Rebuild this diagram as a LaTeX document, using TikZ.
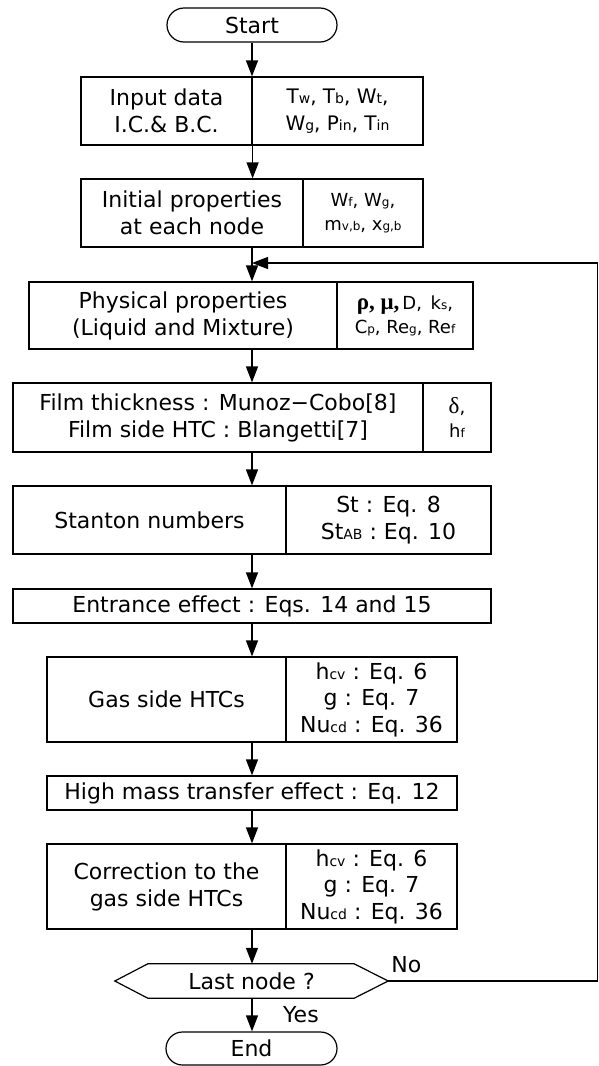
\documentclass[tikz,border=0pt]{standalone}
\usepackage{fontspec}
\setmainfont{DejaVu Sans}
\newfontfamily\grk{Liberation Serif}
\usetikzlibrary{arrows.meta,shapes.misc}
\newcommand{\sa}[1]{{\fontsize{14}{14}\selectfont #1}}
\newcommand{\sbb}[1]{{\fontsize{12}{12}\selectfont #1}}
\begin{document}
\begin{tikzpicture}[x=1pt,y=-1pt,
  font=\fontsize{22}{27}\selectfont,
  box/.style={draw, line width=1.2pt, inner sep=0pt, align=center},
  small/.style={font=\fontsize{18}{24}\selectfont},
  mid/.style={font=\fontsize{20}{27}\selectfont},
  arr/.style={line width=1.2pt, -{Triangle[length=16pt,width=12pt]}},
  ln/.style={line width=1.2pt}]
\useasboundingbox (0,0) rectangle (599,1066);

% Start
\node[box, rounded rectangle, minimum width=170pt, minimum height=34pt] (start) at (252,25) {Start};

% Input
\node[box, minimum width=171pt, minimum height=68pt] (inL) at (166.5,111) {Input data\\I.C.\& B.C.};
\node[box, mid, minimum width=171pt, minimum height=68pt] (inR) at (337.5,111) {T\sa{w}, T\sa{b}, W\sa{t},\\W\sa{g}, P\sa{in}, T\sa{in}};

% Initial
\node[box, minimum width=222pt, minimum height=68pt] (iniL) at (192,213) {Initial properties\\at each node};
\node[box, small, minimum width=120pt, minimum height=68pt] (iniR) at (363,213) {W\sbb{f}, W\sbb{g},\\m\sbb{v,b}, x\sbb{g,b}};

% Physical
\node[box, minimum width=308pt, minimum height=67pt] (phL) at (183,315.5) {Physical properties\\(Liquid and Mixture)};
\node[box, small, minimum width=136pt, minimum height=67pt] (phR) at (405,315.5) {{\grk\bfseries\fontsize{23}{24}\selectfont ρ, μ,}\,D,\ \,k\sbb{s},\\C\sbb{p}, Re\sbb{g}, Re\sbb{f}};

% Film
\node[box, minimum width=410pt, minimum height=69pt] (fiL) at (218,417.5) {Film thickness : Munoz−Cobo[8]\\Film side HTC : Blangetti[7]};
\node[box, small, minimum width=68pt, minimum height=69pt] (fiR) at (457,417.5) {{\grk\fontsize{23}{24}\selectfont δ},\\h\sbb{f}};

% Stanton
\node[box, minimum width=273pt, minimum height=68pt] (stL) at (149.5,520) {Stanton numbers};
\node[box, minimum width=205pt, minimum height=68pt] (stR) at (388.5,520) {St : Eq. 8\\St\sa{AB} : Eq. 10};

% Entrance
\node[box, minimum width=478pt, minimum height=34pt] (ent) at (252,606) {Entrance effect : Eqs. 14 and 15};

% Gas side
\node[box, minimum width=239pt, minimum height=85pt] (gaL) at (166.5,699.5) {Gas side HTCs};
\node[box, font=\fontsize{22}{26.5}\selectfont, minimum width=171pt, minimum height=85pt] (gaR) at (371.5,699.5) {h\sa{cv} : Eq. 6\\g : Eq. 7\\Nu\sa{cd} : Eq. 36};

% High mass
\node[box, minimum width=410pt, minimum height=34pt] (hm) at (252,793) {High mass transfer effect : Eq. 12};

% Correction
\node[box, minimum width=239pt, minimum height=85pt] (coL) at (166.5,886.5) {Correction to the\\gas side HTCs};
\node[box, font=\fontsize{22}{26.5}\selectfont, minimum width=171pt, minimum height=85pt] (coR) at (371.5,886.5) {h\sa{cv} : Eq. 6\\g : Eq. 7\\Nu\sa{cd} : Eq. 36};

% Decision
\node[inner sep=0pt, minimum width=273pt, minimum height=34pt] (dec) at (251.5,981) {Last node ?};
\draw[ln] (dec.west) -- ([xshift=33pt]dec.north west) -- ([xshift=-34pt]dec.north east) -- (dec.east)
  -- ([xshift=-34pt]dec.south east) -- ([xshift=33pt]dec.south west) -- cycle;

% End
\node[box, rounded rectangle, minimum width=171pt, minimum height=33pt] (end) at (251.5,1048.5) {End};

% labels
\node[anchor=south west, inner sep=0pt] (no) at ([xshift=3pt,yshift=8pt]dec.east) {No};
\node[anchor=base west, inner sep=0pt] (yes) at (283,1022) {Yes};

% connectors
\coordinate (fb) at (597.5,263);
\draw[arr] (start.south) -- (start.south |- inL.north);
\draw[arr] (inL.south east) -- (inL.south east |- iniL.north);
\draw[arr] (iniL.south -| start) -- (phL.north -| start);
\draw[arr] (phL.south -| start) -- (fiL.north -| start);
\draw[arr] (fiL.south -| start) -- (stL.north -| start);
\draw[arr] (stL.south -| start) -- (ent.north -| start);
\draw[arr] (ent.south -| start) -- (gaL.north -| start);
\draw[arr] (gaL.south -| start) -- (hm.north -| start);
\draw[arr] (hm.south -| start) -- (coL.north -| start);
\draw[arr] (coL.south -| start) -- (dec.north -| start);
\draw[arr] (dec.south -| start) -- (end.north -| start);
\draw[arr] (dec.east) -- (fb |- dec.east) -- (fb) -- (fb -| start);
\end{tikzpicture}
\end{document}
